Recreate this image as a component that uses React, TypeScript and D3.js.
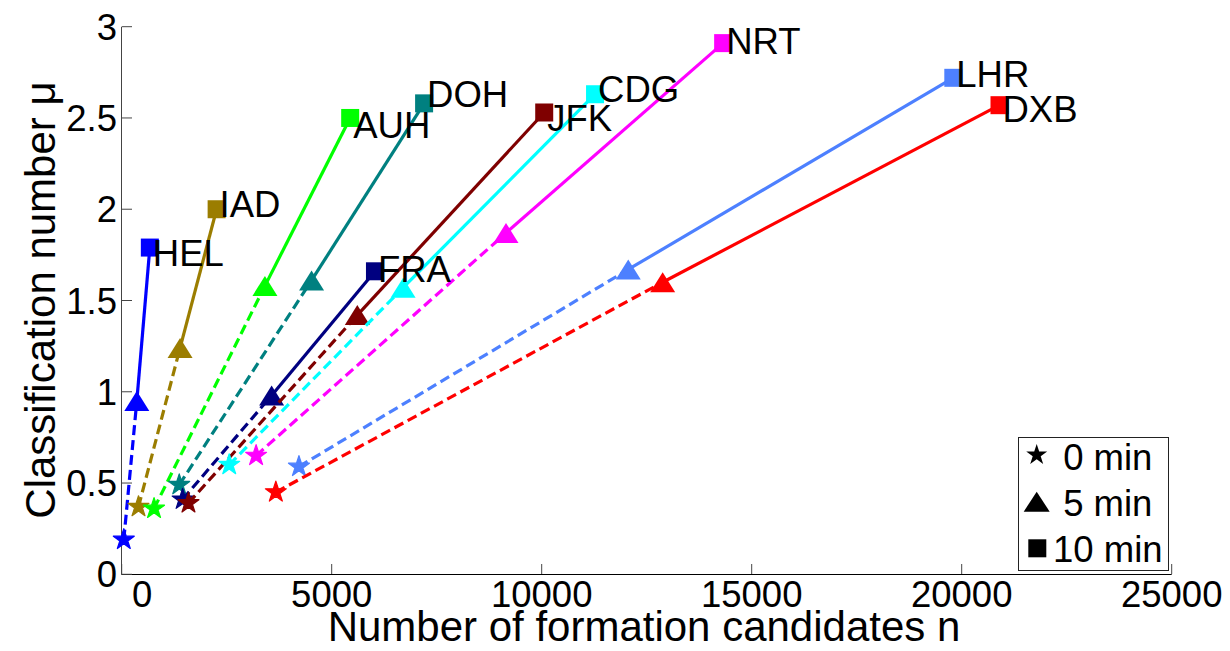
import { useEffect } from 'react'
import * as d3 from 'd3'

// airports and their classification results at 0, 5 and 10 min
const airports = ['HEL', 'IAD', 'AUH', 'DOH', 'FRA', 'JFK', 'CDG', 'NRT', 'LHR', 'DXB']
const colors = ['#0000ff', '#9b7d00', '#00ff00', '#008080', '#000080', '#7f0000', '#00ffff', '#ff00ff', '#4d80ff', '#ff0000']

const n0 = [50, 400, 770, 1370, 1450, 1590, 2560, 3200, 4220, 3670]
const mu0 = [0.19, 0.37, 0.36, 0.49, 0.41, 0.39, 0.6, 0.65, 0.59, 0.45]
const n5 = [360, 1390, 3410, 4520, 3570, 5610, 6700, 9150, 12060, 12880]
const mu5 = [0.95, 1.24, 1.58, 1.61, 0.98, 1.42, 1.57, 1.87, 1.67, 1.6]
const n10 = [670, 2260, 5440, 7200, 6030, 10060, 11270, 14320, 19800, 20900]
const mu10 = [1.79, 2.0, 2.5, 2.58, 1.66, 2.53, 2.63, 2.91, 2.72, 2.57]
// where the airport names sit (text(x,y) style, in mu units)
const labelMu = [1.76, 2.03, 2.46, 2.63, 1.67, 2.5, 2.66, 2.92, 2.74, 2.55]

const xTicks = [0, 5000, 10000, 15000, 20000, 25000]
const yTicks = [0, 0.5, 1, 1.5, 2, 2.5, 3]
const legendLabels = [' 0 min', ' 5 min', '10 min']

const font = '"Liberation Sans", Arial, sans-serif'

const starPath = (r: number) => d3.symbol(d3.symbolStar, (r * r) / 0.8908130915292852)()
const triPath = (w: number, h: number) => `M0,${-h / 2}L${w / 2},${h / 2}L${-w / 2},${h / 2}Z`

const App = () => {
  useEffect(() => {
    document.body.style.margin = '0'
  }, [])

  const width = 1230, height = 651
  const x = d3.scaleLinear().domain([0, 25000]).range([121.7, 1171.7])
  const y = d3.scaleLinear().domain([0, 3]).range([574.3, 26.7])
  const line = d3.line<[number, number]>().x(d => x(d[0])).y(d => y(d[1]))

  const tickFs = 36.5

  return (
    <svg width={width} height={height} style={{ display: 'block', background: '#fff' }} fontFamily={font}>
      {/* axes */}
      <line x1={121.5} x2={121.5} y1={y(3)} y2={574.5} stroke="#444" strokeWidth={1} />
      <line x1={121.5} x2={x(25000)} y1={574.5} y2={574.5} stroke="#000" strokeWidth={1} />
      {yTicks.map(t => (
        <g key={'y' + t}>
          <line x1={122} x2={132} y1={y(t)} y2={y(t)} stroke="#444" />
          <text x={117} y={y(t) + 13} textAnchor="end" fontSize={tickFs}>{t}</text>
        </g>
      ))}
      {xTicks.map((t, i) => (
        <g key={'x' + t}>
          <line x1={x(t)} x2={x(t)} y1={574} y2={564} stroke="#444" />
          <text x={x(t) + (i === 0 ? 20.5 : 0)} y={607} textAnchor="middle" fontSize={tickFs}>{t}</text>
        </g>
      ))}
      <text x={644} y={641} textAnchor="middle" fontSize={42}>Number of formation candidates n</text>
      <text transform="translate(55,300) rotate(-90)" textAnchor="middle" fontSize={42}>Classification number μ</text>

      {/* series */}
      {airports.map((a, i) => (
        <g key={a}>
          <path d={line([[n0[i], mu0[i]], [n5[i], mu5[i]]]) ?? ''} fill="none" stroke={colors[i]} strokeWidth={3.2} strokeDasharray="10,5" />
          <path d={line([[n5[i], mu5[i]], [n10[i], mu10[i]]]) ?? ''} fill="none" stroke={colors[i]} strokeWidth={3.2} />
          <path d={starPath(11) ?? ''} transform={`translate(${x(n0[i])},${y(mu0[i])})`} fill={colors[i]} stroke={colors[i]} strokeWidth={1.2} strokeLinejoin="round" />
          <path d={triPath(25, 20)} transform={`translate(${x(n5[i])},${y(mu5[i])})`} fill={colors[i]} />
          <rect x={x(n10[i]) - 9} y={y(mu10[i]) - 9} width={18} height={18} fill={colors[i]} />
        </g>
      ))}
      {airports.map((a, i) => (
        <text key={'l' + a} x={x(n10[i]) + 3} y={y(labelMu[i]) + 13} fontSize={tickFs}>{a}</text>
      ))}

      {/* legend */}
      <rect x={1018.5} y={437.5} width={150} height={133} fill="#fff" stroke="#222" strokeWidth={1} />
      <path d={starPath(11) ?? ''} transform="translate(1036.7,455)" fill="#000" />
      <path d={triPath(26, 20)} transform="translate(1036.7,501.7)" fill="#000" />
      <rect x={1028.3} y={539.3} width={18} height={18} fill="#000" />
      {legendLabels.map((l, i) => (
        <text key={l} x={1053} y={470 + i * 46} fontSize={tickFs} style={{ whiteSpace: 'pre' }}>{l}</text>
      ))}
    </svg>
  )
}

export default App
